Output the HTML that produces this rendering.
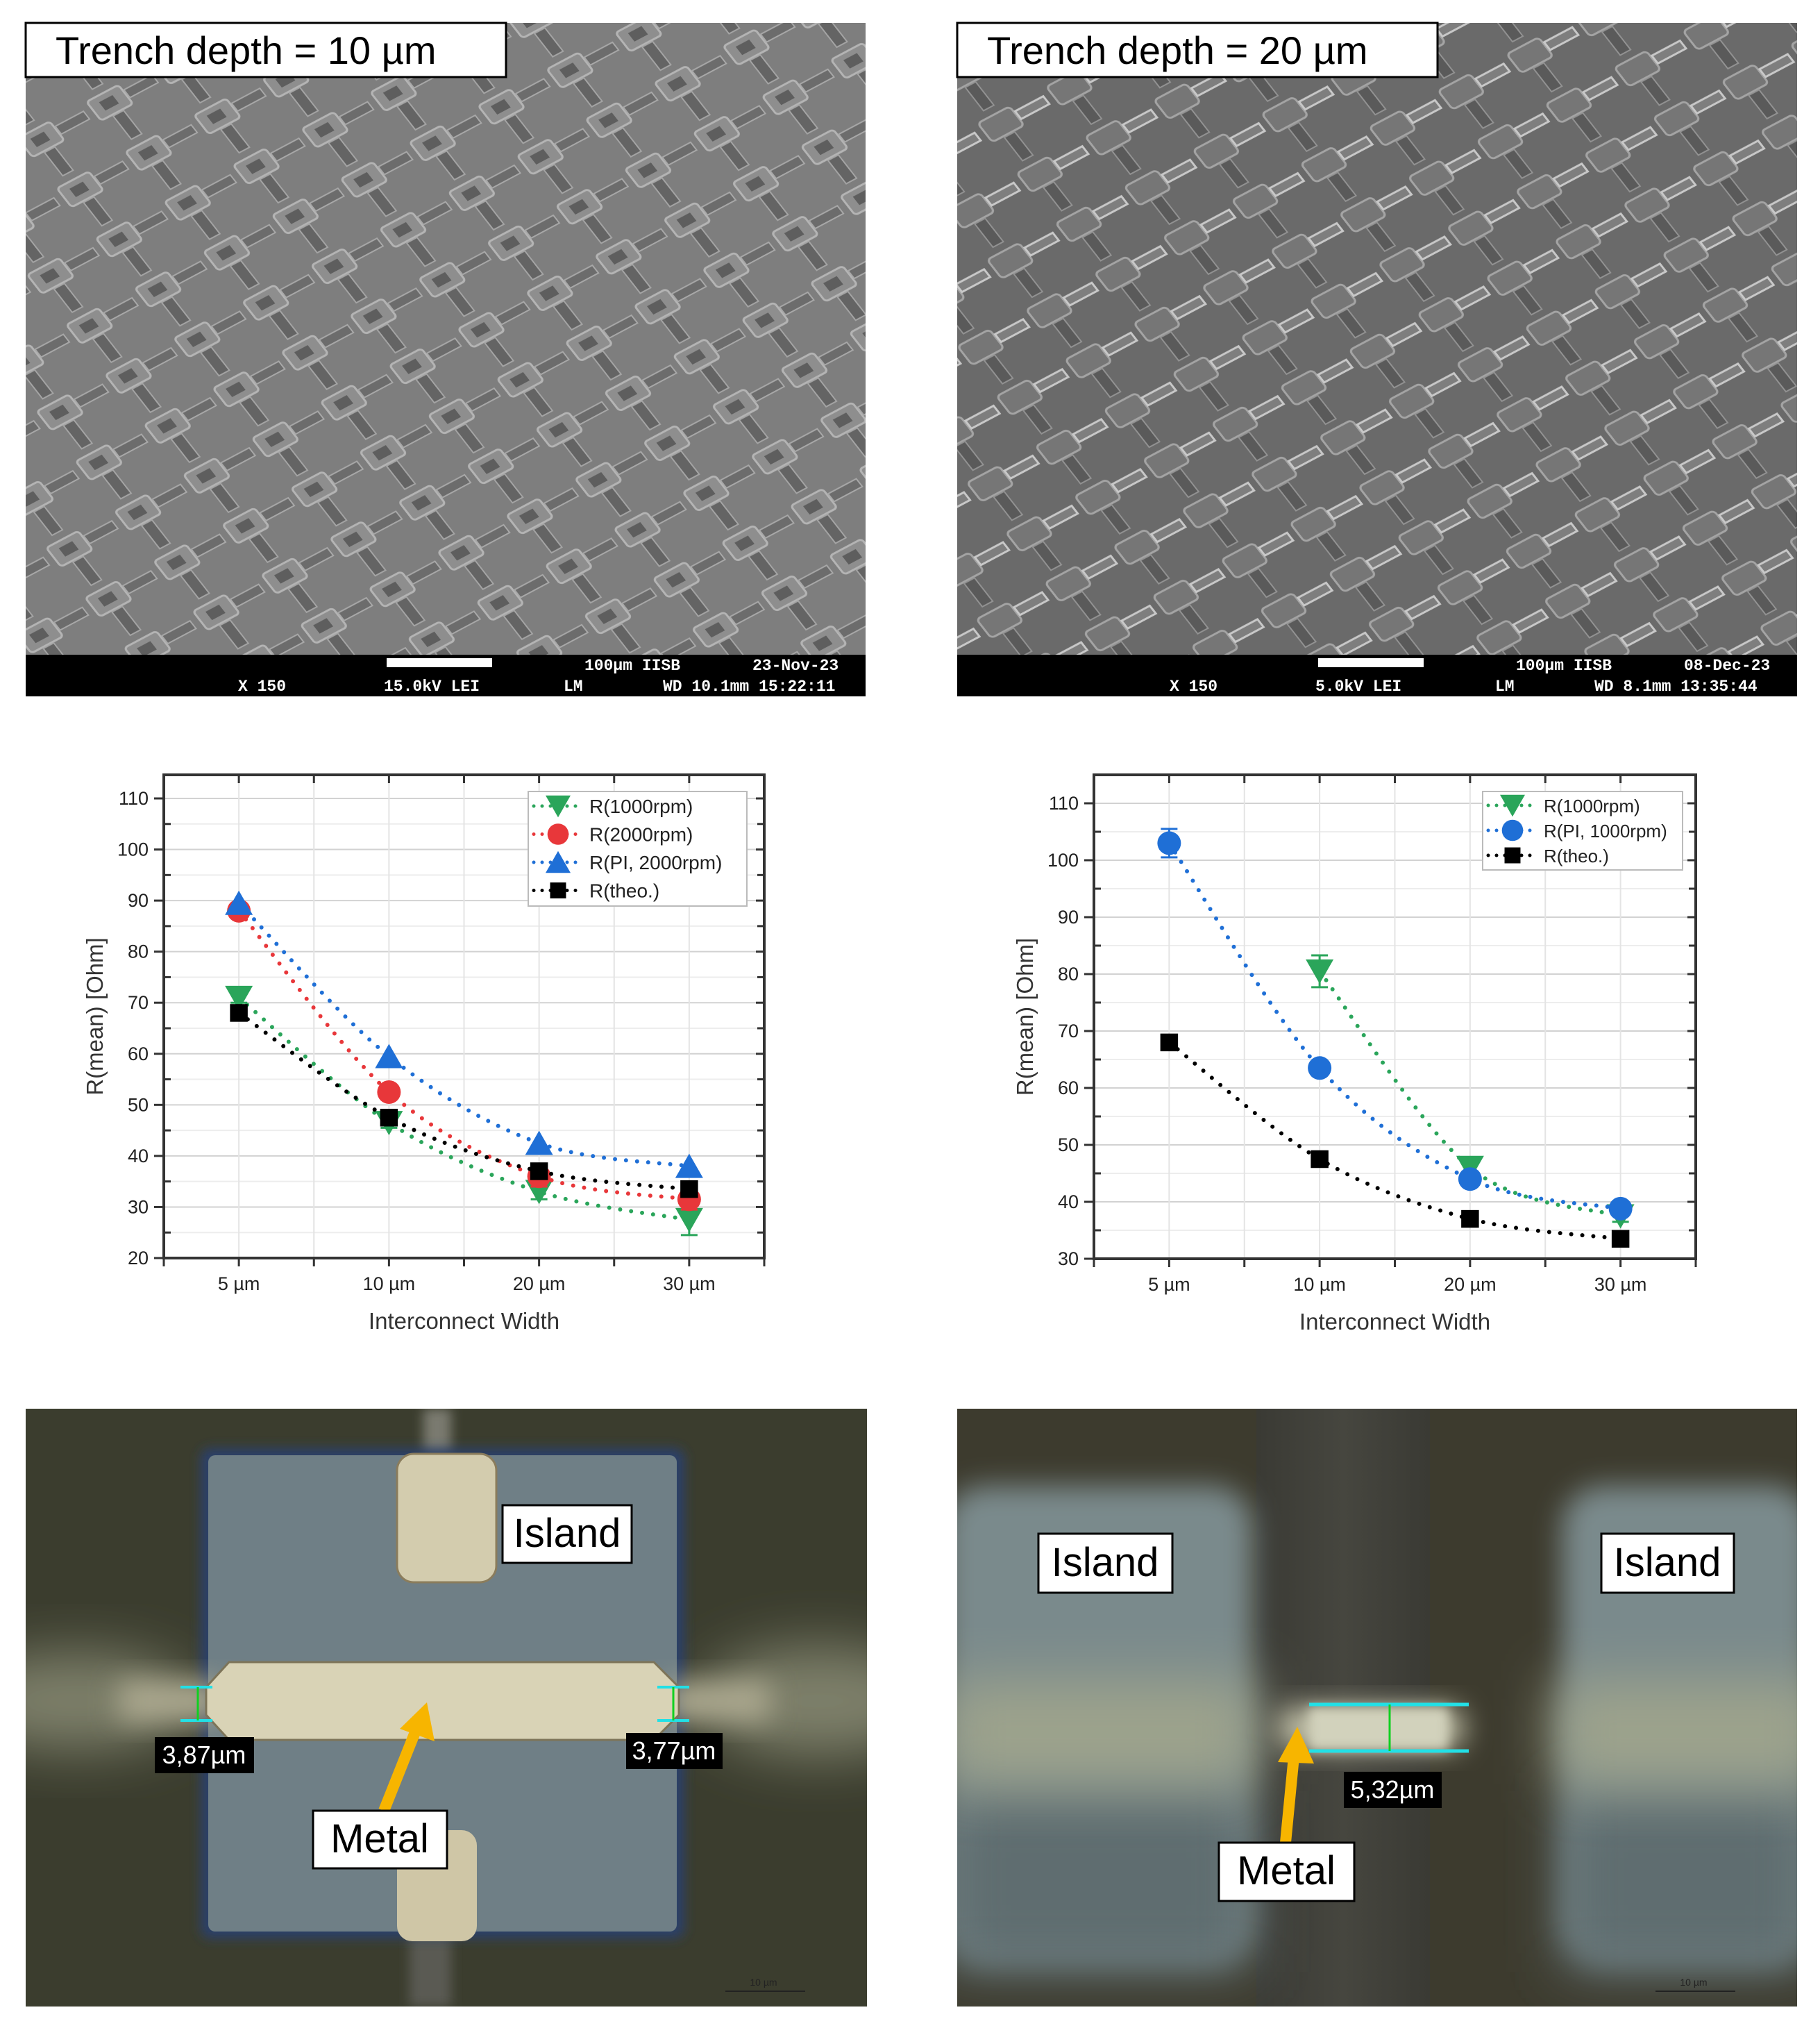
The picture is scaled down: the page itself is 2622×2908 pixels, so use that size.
<!DOCTYPE html>
<html><head><meta charset="utf-8"><title>Trench depth comparison</title>
<style>
html,body{margin:0;padding:0;background:#fff;}
svg{display:block;}
text{font-family:"Liberation Sans",Arial,sans-serif;}
.mono{font-family:"Liberation Mono",monospace;font-weight:bold;}
</style></head>
<body>
<svg id="fig" width="2622" height="2908" viewBox="0 0 2622 2908" xmlns="http://www.w3.org/2000/svg">
<defs>
  <pattern id="semA" width="112" height="90" patternUnits="userSpaceOnUse" patternTransform="rotate(-28) skewX(10)">
    <rect width="112" height="90" fill="#7e7e7e"/>
    <rect x="8" y="8" width="52" height="34" rx="5" fill="#8e8e8e" stroke="#b4b4b4" stroke-width="3"/>
    <rect x="22" y="17" width="22" height="15" fill="#5e5e5e"/>
    <rect x="62" y="18" width="46" height="14" fill="#6c6c6c" stroke="#a8a8a8" stroke-width="2"/>
    <rect x="26" y="44" width="17" height="42" fill="#646464" stroke="#a4a4a4" stroke-width="2"/>
  </pattern>
  <pattern id="semB" width="112" height="90" patternUnits="userSpaceOnUse" patternTransform="rotate(-28) skewX(10)">
    <rect width="112" height="90" fill="#6a6a6a"/>
    <rect x="8" y="8" width="52" height="34" rx="6" fill="#767676" stroke="#a4a4a4" stroke-width="3"/>
    <rect x="62" y="18" width="46" height="14" fill="#7e7e7e" stroke="#c8c8c8" stroke-width="3"/>
    <rect x="26" y="44" width="17" height="42" fill="#5a5a5a" stroke="#929292" stroke-width="2"/>
  </pattern>
  <filter id="blur8" x="-50%" y="-50%" width="200%" height="200%"><feGaussianBlur stdDeviation="8"/></filter>
  <filter id="blur20" x="-50%" y="-50%" width="200%" height="200%"><feGaussianBlur stdDeviation="20"/></filter>
  <filter id="blur40" x="-50%" y="-50%" width="200%" height="200%"><feGaussianBlur stdDeviation="40"/></filter>
  <clipPath id="clipL"><rect x="37" y="2029" width="1212" height="861"/></clipPath>
  <clipPath id="clipR"><rect x="1379" y="2029" width="1210" height="861"/></clipPath>
  <linearGradient id="midBand" x1="0" x2="1" y1="0" y2="0">
    <stop offset="0" stop-color="#3a3a34"/><stop offset="0.5" stop-color="#46463f"/><stop offset="1" stop-color="#3a3a34"/>
  </linearGradient>
</defs>

<!-- SEM left -->
<g>
  <rect x="37" y="33" width="1210" height="910" fill="url(#semA)"/>
  <rect x="37" y="943" width="1210" height="60" fill="#000"/>
  <rect x="557" y="948" width="152" height="13" fill="#fff"/>
  <text class="mono" x="842" y="965" fill="#fff" font-size="23">100µm IISB</text>
  <text class="mono" x="1084" y="965" fill="#fff" font-size="23">23-Nov-23</text>
  <text class="mono" x="343" y="995" fill="#fff" font-size="23">X 150</text>
  <text class="mono" x="553" y="995" fill="#fff" font-size="23">15.0kV LEI</text>
  <text class="mono" x="812" y="995" fill="#fff" font-size="23">LM</text>
  <text class="mono" x="955" y="995" fill="#fff" font-size="23">WD 10.1mm 15:22:11</text>
  <rect x="37" y="33" width="692" height="78" fill="#fff" stroke="#000" stroke-width="3"/>
  <text x="80" y="92" font-size="56" fill="#000">Trench depth = 10 µm</text>
</g>

<!-- SEM right -->
<g>
  <rect x="1379" y="33" width="1210" height="910" fill="url(#semB)"/>
  <rect x="1379" y="943" width="1210" height="60" fill="#000"/>
  <rect x="1899" y="948" width="152" height="13" fill="#fff"/>
  <text class="mono" x="2184" y="965" fill="#fff" font-size="23">100µm IISB</text>
  <text class="mono" x="2426" y="965" fill="#fff" font-size="23">08-Dec-23</text>
  <text class="mono" x="1685" y="995" fill="#fff" font-size="23">X 150</text>
  <text class="mono" x="1895" y="995" fill="#fff" font-size="23">5.0kV  LEI</text>
  <text class="mono" x="2154" y="995" fill="#fff" font-size="23">LM</text>
  <text class="mono" x="2297" y="995" fill="#fff" font-size="23">WD 8.1mm  13:35:44</text>
  <rect x="1379" y="33" width="692" height="78" fill="#fff" stroke="#000" stroke-width="3"/>
  <text x="1422" y="92" font-size="56" fill="#000">Trench depth = 20 µm</text>
</g>

<g id="chart1"></g>
<g id="chart2"></g>

<!-- Photo left -->
<g clip-path="url(#clipL)">
  <rect x="37" y="2029" width="1212" height="861" fill="#3b3d2e"/>
  <ellipse cx="110" cy="2450" rx="170" ry="70" fill="#7e806a" filter="url(#blur40)"/>
  <ellipse cx="1180" cy="2450" rx="170" ry="80" fill="#7e806a" filter="url(#blur40)"/>
  <rect x="610" y="2029" width="40" height="80" fill="#7a7a70" filter="url(#blur8)"/>
  <rect x="590" y="2780" width="60" height="110" fill="#5a5a52" filter="url(#blur8)"/>
  <rect x="289" y="2086" width="697" height="706" rx="14" fill="#2c3f6a" filter="url(#blur8)"/>
  <rect x="300" y="2096" width="675" height="686" rx="10" fill="#6f7f86"/>
  <rect x="170" y="2420" width="150" height="60" fill="#aaa78e" filter="url(#blur20)"/>
  <rect x="960" y="2420" width="150" height="60" fill="#aaa78e" filter="url(#blur20)"/>
  <rect x="572" y="2094" width="143" height="185" rx="24" fill="#d3ccae" stroke="#8a7c5c" stroke-width="3"/>
  <rect x="572" y="2636" width="115" height="160" rx="22" fill="#cfc6a6"/>
  <polygon points="297,2430 330,2394 942,2394 978,2430 978,2470 942,2506 330,2506 297,2470" fill="#d9d3b6" stroke="#7d7458" stroke-width="3"/>
  <line x1="260" y1="2430" x2="306" y2="2430" stroke="#22e0e6" stroke-width="4"/>
  <line x1="260" y1="2478" x2="306" y2="2478" stroke="#22e0e6" stroke-width="4"/>
  <line x1="285" y1="2430" x2="285" y2="2478" stroke="#10d020" stroke-width="3"/>
  <line x1="947" y1="2430" x2="993" y2="2430" stroke="#22e0e6" stroke-width="4"/>
  <line x1="947" y1="2478" x2="993" y2="2478" stroke="#22e0e6" stroke-width="4"/>
  <line x1="970" y1="2430" x2="970" y2="2478" stroke="#10d020" stroke-width="3"/>
  <rect x="223" y="2502" width="143" height="52" fill="#000"/>
  <text x="294" y="2540" font-size="36" fill="#fff" text-anchor="middle">3,87µm</text>
  <rect x="902" y="2496" width="139" height="52" fill="#000"/>
  <text x="971" y="2534" font-size="36" fill="#fff" text-anchor="middle">3,77µm</text>
  <line x1="553" y1="2608" x2="600" y2="2490" stroke="#f7b500" stroke-width="16"/>
  <polygon points="615,2452 626,2508 576,2490" fill="#f7b500"/>
  <rect x="724" y="2168" width="186" height="83" fill="#fff" stroke="#000" stroke-width="3"/>
  <text x="817" y="2228" font-size="58" text-anchor="middle" fill="#000">Island</text>
  <rect x="451" y="2608" width="193" height="83" fill="#fff" stroke="#000" stroke-width="3"/>
  <text x="547" y="2668" font-size="58" text-anchor="middle" fill="#000">Metal</text>
  <line x1="1045" y1="2868" x2="1160" y2="2868" stroke="#222" stroke-width="2"/>
  <text x="1100" y="2860" font-size="14" fill="#222" text-anchor="middle">10 µm</text>
</g>

<!-- Photo right -->
<g clip-path="url(#clipR)">
  <rect x="1379" y="2029" width="1210" height="861" fill="#3d3b2e"/>
  <rect x="1810" y="2029" width="250" height="861" fill="url(#midBand)"/>
  <rect x="1360" y="2140" width="445" height="690" rx="60" fill="#7a8a8c" filter="url(#blur20)"/>
  <rect x="2250" y="2140" width="360" height="690" rx="60" fill="#7a8a8c" filter="url(#blur20)"/>
  <rect x="1360" y="2580" width="445" height="260" fill="#5f6d70" filter="url(#blur40)"/>
  <rect x="2250" y="2580" width="360" height="260" fill="#5f6d70" filter="url(#blur40)"/>
  <rect x="1360" y="2420" width="450" height="150" fill="#9da38c" filter="url(#blur40)"/>
  <rect x="2240" y="2420" width="390" height="150" fill="#9da38c" filter="url(#blur40)"/>
  <rect x="1840" y="2458" width="270" height="62" rx="30" fill="#c2c1a8" filter="url(#blur20)"/>
  <rect x="1886" y="2460" width="200" height="60" fill="#d2d2bc" filter="url(#blur8)"/>
  <line x1="1886" y1="2455" x2="2116" y2="2455" stroke="#22e0e6" stroke-width="5"/>
  <line x1="1886" y1="2522" x2="2116" y2="2522" stroke="#22e0e6" stroke-width="5"/>
  <line x1="2002" y1="2455" x2="2002" y2="2522" stroke="#10d020" stroke-width="3"/>
  <rect x="1936" y="2552" width="141" height="52" fill="#000"/>
  <text x="2006" y="2590" font-size="36" fill="#fff" text-anchor="middle">5,32µm</text>
  <line x1="1852" y1="2654" x2="1864" y2="2530" stroke="#f7b500" stroke-width="16"/>
  <polygon points="1869,2487 1893,2540 1841,2538" fill="#f7b500"/>
  <rect x="1496" y="2209" width="193" height="85" fill="#fff" stroke="#000" stroke-width="3"/>
  <text x="1592" y="2270" font-size="58" text-anchor="middle" fill="#000">Island</text>
  <rect x="2307" y="2209" width="191" height="85" fill="#fff" stroke="#000" stroke-width="3"/>
  <text x="2402" y="2270" font-size="58" text-anchor="middle" fill="#000">Island</text>
  <rect x="1756" y="2654" width="195" height="84" fill="#fff" stroke="#000" stroke-width="3"/>
  <text x="1853" y="2714" font-size="58" text-anchor="middle" fill="#000">Metal</text>
  <line x1="2385" y1="2868" x2="2500" y2="2868" stroke="#222" stroke-width="2"/>
  <text x="2440" y="2860" font-size="14" fill="#222" text-anchor="middle">10 µm</text>
</g>
</svg>

<script>
// ---------- Chart data ----------
const categories = ["5 µm", "10 µm", "20 µm", "30 µm"];
const c1Ticks = [20, 30, 40, 50, 60, 70, 80, 90, 100, 110];
const c1R1000 = [71, 46.5, 33, 27.5];
const c1R1000Err = [1, 1, 1.5, 3];
const c1R2000 = [88, 52.5, 36, 31.5];
const c1R2000Err = [1, 1, 2, 2];
const c1PI2000 = [89.5, 59.5, 42.5, 38];
const c1Theo = [68, 47.5, 37, 33.5];
const c2Ticks = [30, 40, 50, 60, 70, 80, 90, 100, 110];
const c2R1000 = [null, 80.5, 46, 37.5];
const c2R1000Err = [0, 2.8, 1, 1];
const c2PI1000 = [103, 63.5, 44, 38.8];
const c2PI1000Err = [2.5, 1, 1, 1];
const c2Theo = [68, 47.5, 37, 33.5];

const NS = "http://www.w3.org/2000/svg";
function mk(parent, tag, attrs) {
  const e = document.createElementNS(NS, tag);
  for (const k in attrs) e.setAttribute(k, attrs[k]);
  parent.appendChild(e);
  return e;
}
const COL = {green: "#2aa55a", red: "#e8373a", blue: "#1f6fd6", black: "#000"};

function marker(g, shape, cx, cy, color, s) {
  let el;
  if (shape === "down") el = mk(g, "polygon", {points: `${cx - s},${cy - s * 0.85} ${cx + s},${cy - s * 0.85} ${cx},${cy + s * 0.9}`, fill: color});
  else if (shape === "up") el = mk(g, "polygon", {points: `${cx - s},${cy + s * 0.85} ${cx + s},${cy + s * 0.85} ${cx},${cy - s * 0.9}`, fill: color});
  else if (shape === "circle") el = mk(g, "circle", {cx: cx, cy: cy, r: s * 0.85, fill: color});
  else el = mk(g, "rect", {x: cx - s * 0.75, y: cy - s * 0.75, width: s * 1.5, height: s * 1.5, fill: color});
  return el;
}

function drawChart(gid, cfg) {
  const g = document.getElementById(gid);
  const {L, R, T, B, ymin, ymax, ticks} = cfg;
  const xs = i => L + (i + 0.5) * (R - L) / categories.length;
  const ys = v => B - (v - ymin) * (B - T - cfg.topPad) / (ymax - ymin);
  for (let v = ymin; v <= ymax + 5; v += 5) {
    const y = ys(v);
    if (y < T) continue;
    const gl = mk(g, "line", {x1: L, x2: R, y1: y, y2: y, stroke: v % 10 === 0 ? "#d2d2d2" : "#ededed", "stroke-width": 2});
    
    
    if (v % 10 !== 0) {
      mk(g, "line", {x1: L, x2: L + 10, y1: y, y2: y, stroke: "#333", "stroke-width": 3});
      mk(g, "line", {x1: R, x2: R - 10, y1: y, y2: y, stroke: "#333", "stroke-width": 3});
    }
  }
  for (let k = 0; k <= categories.length * 2; k++) {
    const x = L + k * (R - L) / (categories.length * 2);
    const vl = mk(g, "line", {x1: x, x2: x, y1: T, y2: B, stroke: "#e4e4e4", "stroke-width": 2});
    
    
    mk(g, "line", {x1: x, x2: x, y1: B, y2: B + 12, stroke: "#333", "stroke-width": 3});
    mk(g, "line", {x1: x, x2: x, y1: T, y2: T + 12, stroke: "#333", "stroke-width": 3});
  }
  ticks.forEach(v => {
    const y = ys(v);
    mk(g, "line", {x1: L - 14, x2: L, y1: y, y2: y, stroke: "#333", "stroke-width": 3});
    mk(g, "line", {x1: R, x2: R - 12, y1: y, y2: y, stroke: "#333", "stroke-width": 3});
    const t = mk(g, "text", {x: L - 22, y: y + 9, "font-size": 27, "text-anchor": "end", fill: "#222"});
    t.textContent = v;
    
    
  });
  categories.forEach((c, i) => {
    const t = mk(g, "text", {x: xs(i), y: B + 46, "font-size": 27, "text-anchor": "middle", fill: "#222"});
    t.textContent = c;
    
    
  });
  const frame = mk(g, "rect", {x: L, y: T, width: R - L, height: B - T, fill: "none", stroke: "#333", "stroke-width": 4});
  
  
  const xt = mk(g, "text", {x: (L + R) / 2, y: B + 102, "font-size": 33, "text-anchor": "middle", fill: "#333"});
  xt.textContent = "Interconnect Width";
  
  
  const yt = mk(g, "text", {x: 0, y: 0, "font-size": 33, "text-anchor": "middle", fill: "#333", transform: `translate(${cfg.yTitleX},${(T + B) / 2}) rotate(-90)`});
  yt.textContent = "R(mean) [Ohm]";
  
  

  cfg.series.forEach(s => {
    const sg = mk(g, "g", {});
    
    
    const pts = [];
    s.values.forEach((v, i) => { if (v !== null) pts.push([xs(i), ys(v)]); });
    let d = "";
    for (let k = 0; k < pts.length; k++) {
      if (k === 0) { d += `M${pts[0][0]},${pts[0][1]}`; continue; }
      const p0 = pts[Math.max(k - 2, 0)], p1 = pts[k - 1], p2 = pts[k], p3 = pts[Math.min(k + 1, pts.length - 1)];
      const c1 = [p1[0] + (p2[0] - p0[0]) / 6, p1[1] + (p2[1] - p0[1]) / 6];
      const c2 = [p2[0] - (p3[0] - p1[0]) / 6, p2[1] - (p3[1] - p1[1]) / 6];
      d += ` C${c1[0]},${c1[1]} ${c2[0]},${c2[1]} ${p2[0]},${p2[1]}`;
    }
    mk(sg, "path", {d: d, fill: "none", stroke: s.color, "stroke-width": 6, "stroke-dasharray": "0 16", "stroke-linecap": "round"});
    s.values.forEach((v, i) => {
      if (v === null) return;
      const e = s.err ? s.err[i] : 0;
      if (e) {
        const x = xs(i);
        mk(sg, "line", {x1: x, x2: x, y1: ys(v - e), y2: ys(v + e), stroke: s.color, "stroke-width": 3});
        mk(sg, "line", {x1: x - 12, x2: x + 12, y1: ys(v - e), y2: ys(v - e), stroke: s.color, "stroke-width": 3});
        mk(sg, "line", {x1: x - 12, x2: x + 12, y1: ys(v + e), y2: ys(v + e), stroke: s.color, "stroke-width": 3});
      }
      const m = marker(sg, s.shape, xs(i), ys(v), s.color, s.size);
      
      
    });
  });

  const lg = mk(g, "g", {});
  
  
  const lc = cfg.legend;
  mk(lg, "rect", {x: lc.x, y: lc.y, width: lc.w, height: lc.h, fill: "#fff", stroke: "#bbb", "stroke-width": 2});
  cfg.series.forEach((s, k) => {
    const ey = lc.y + lc.first + k * lc.step;
    const le = mk(lg, "g", {});
    
    
    mk(le, "line", {x1: lc.x + 8, x2: lc.x + 78, y1: ey, y2: ey, stroke: s.color, "stroke-width": 5, "stroke-dasharray": "0 12", "stroke-linecap": "round"});
    marker(le, s.shape, lc.x + 43, ey, s.color, s.size * 0.9);
    const t = mk(le, "text", {x: lc.x + 88, y: ey + 10, "font-size": lc.fs, fill: "#222"});
    t.textContent = s.label;
  });
}

drawChart("chart1", {
  L: 236, R: 1101, T: 1116, B: 1812, ymin: 20, ymax: 110, topPad: 34, ticks: c1Ticks, yTitleX: 148,
  legend: {x: 761, y: 1140, w: 315, h: 165, first: 21, step: 40.5, fs: 28},
  series: [
    {name: "series-r-1000rpm", label: "R(1000rpm)", values: c1R1000, err: c1R1000Err, color: COL.green, shape: "down", size: 20},
    {name: "series-r-2000rpm", label: "R(2000rpm)", values: c1R2000, err: c1R2000Err, color: COL.red, shape: "circle", size: 20},
    {name: "series-r-pi-2000rpm", label: "R(PI, 2000rpm)", values: c1PI2000, err: null, color: COL.blue, shape: "up", size: 20},
    {name: "series-r-theo", label: "R(theo.)", values: c1Theo, err: null, color: COL.black, shape: "square", size: 17}
  ]
});
drawChart("chart2", {
  L: 1576, R: 2443, T: 1116, B: 1813, ymin: 30, ymax: 110, topPad: 41, ticks: c2Ticks, yTitleX: 1488,
  legend: {x: 2136, y: 1140, w: 288, h: 113, first: 20, step: 36, fs: 26},
  series: [
    {name: "series-r-1000rpm", label: "R(1000rpm)", values: c2R1000, err: c2R1000Err, color: COL.green, shape: "down", size: 20},
    {name: "series-r-pi-1000rpm", label: "R(PI, 1000rpm)", values: c2PI1000, err: c2PI1000Err, color: COL.blue, shape: "circle", size: 20},
    {name: "series-r-theo", label: "R(theo.)", values: c2Theo, err: null, color: COL.black, shape: "square", size: 17}
  ]
});
</script>
</body></html>
